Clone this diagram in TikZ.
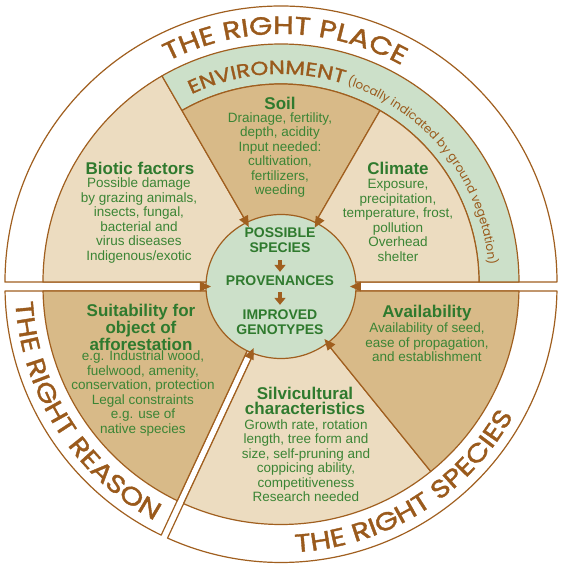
\documentclass[tikz,border=0pt]{standalone}
\usepackage{fontspec}
\setmainfont{Liberation Sans}
\newfontfamily\pop{Poppins}
\newfontfamily\popr{Poppins}[FakeStretch=1.2,FakeBold=1.5]
\usetikzlibrary{decorations.text,arrows.meta}
\definecolor{brn}{HTML}{A05F1F}
\definecolor{brntxt}{HTML}{9A5A1C}
\definecolor{lbeige}{HTML}{ECDCC0}
\definecolor{dtan}{HTML}{D8BA88}
\definecolor{sage}{HTML}{CCE0C9}
\definecolor{gtxt}{HTML}{3B8535}
\definecolor{gtitle}{HTML}{2F7A2E}
\newcommand\mytip[2]{\fill[brn, rotate=#1] (#2-5,0) -- (#2+6,5) -- (#2+6,-5) -- cycle;}
\begin{document}
\begin{tikzpicture}[x=1pt,y=1pt,
  piece/.style={draw=brn, line width=1.2pt, line join=round},
  title/.style={text=gtitle, font=\fontsize{17}{14.7}\selectfont\bfseries, align=center, inner sep=0pt},
  body/.style={text=gtxt, font=\fontsize{13.5}{14.5}\selectfont, align=center, inner sep=0pt},
  ctr/.style={text=gtitle, font=\fontsize{14}{15}\selectfont\bfseries, align=center, inner sep=0pt},
  carrow/.style={draw=brn, line width=3.5pt, -{Triangle[width=11pt,length=7pt]}},
  ringtext/.style={decorate, decoration={text along path, text color=brntxt, text align=center, text={|\popr\fontsize{25}{25}\selectfont|#1}}},
]
\useasboundingbox (-281,-279.5) rectangle (280,286.5);

% ---- upper piece: the right place
\begin{scope}[shift={(0,4.5)}]
 \path[piece, fill=white] (0:276) arc (0:180:276) -- cycle;
 \path[piece, fill=lbeige] (0,0) -- (180:238) arc (180:120:238) -- cycle;
 \path[piece, fill=sage] (0:198) -- (0:238) arc (0:120:238) -- (120:198) arc (120:0:198) -- cycle;
 \path[piece, fill=dtan] (0,0) -- (60:198) arc (60:120:198) -- cycle;
 \path[piece, fill=lbeige] (0,0) -- (0:198) arc (0:60:198) -- cycle;
 \path[ringtext={THE RIGHT PLACE}] (150:248) arc (150:28:248);
 \path[decorate, decoration={text along path, text color=brntxt, text align=left,
   text={|\popr\fontsize{19}{19}\selectfont|ENVIRONMENT|\pop\fontsize{12}{12}\selectfont| (locally indicated by ground vegetation)}}]
   (115.5:208) arc (115.5:-8:208);
\end{scope}

% ---- lower left: the right reason
\path[piece, fill=white] (-5.96,-4.5) -- (180.934:276) arc (180.934:244.273:276) -- cycle;
\path[piece, fill=dtan] (-5.96,-4.5) -- (181.083:238) arc (181.083:244.157:238) -- cycle;
\path[ringtext={THE RIGHT REASON}] (160:266) arc (160:265:266);

% ---- lower right: the right species
\path[piece, fill=white] (1.764,-4.5) -- (245.727:276) arc (245.727:359.066:276) -- cycle;
\path[piece, fill=lbeige] (1.764,-4.5) -- (245.843:238) arc (245.843:309:238) -- (0,0) -- cycle;
\path[piece, fill=dtan] (0,0) -- (309:238) arc (309:358.917:238) -- (1.764,-4.5) -- cycle;
\path[ringtext={THE RIGHT SPECIES}] (240:266) arc (240:364:266);

% ---- centre
\path[piece, fill=sage] (0,0) ellipse [x radius=75, y radius=72];
\mytip{118.4}{72.7}
\mytip{60.2}{72.8}
\mytip{180}{75}
\mytip{0}{74}
\mytip{246}{72.5}
\mytip{309.6}{73.2}

% ---- texts
\node[title] (soilT) at (-1,183.5) {Soil};
\node[body] (soilB) at (-1,131.5) {Drainage, fertility,\\depth, acidity\\Input needed:\\cultivation,\\fertilizers,\\weeding};
\node[title] (bioT) at (-141,118.5) {Biotic factors};
\node[body] (bioB) at (-142,66) {Possible damage\\by grazing animals,\\insects, fungal,\\bacterial and\\virus diseases\\Indigenous/exotic};
\node[title] (cliT) at (117,118.5) {Climate};
\node[body] (cliB) at (117,66) {Exposure,\\precipitation,\\temperature, frost,\\pollution\\Overhead\\shelter};
\node[title] (suiT) at (-140,-41) {Suitability for\\object of\\afforestation};
\node[body] (suiB) at (-138,-107) {e.g. Industrial wood,\\fuelwood, amenity,\\conservation, protection\\Legal constraints\\e.g. use of\\native species};
\node[title] (avaT) at (146,-26.5) {Availability};
\node[body] (avaB) at (146,-56) {Availability of seed,\\ease of propagation,\\and establishment};
\node[title] (silT) at (24,-114.5) {Silvicultural\\characteristics};
\node[body] (silB) at (25,-174) {Growth rate, rotation\\length, tree form and\\size, self-pruning and\\coppicing ability,\\competitiveness\\Research needed};
\node[ctr] (ps) at (-1,46) {POSSIBLE\\SPECIES};
\node[ctr] (pr) at (-1,5.5) {PROVENANCES};
\node[ctr] (ig) at (-1,-36) {IMPROVED\\GENOTYPES};
\draw[carrow, shorten <=7pt, shorten >=4pt] (ps.south) -- (pr.north);
\draw[carrow, shorten <=6pt, shorten >=5pt] (pr.south) -- (ig.north);
\end{tikzpicture}
\end{document}
